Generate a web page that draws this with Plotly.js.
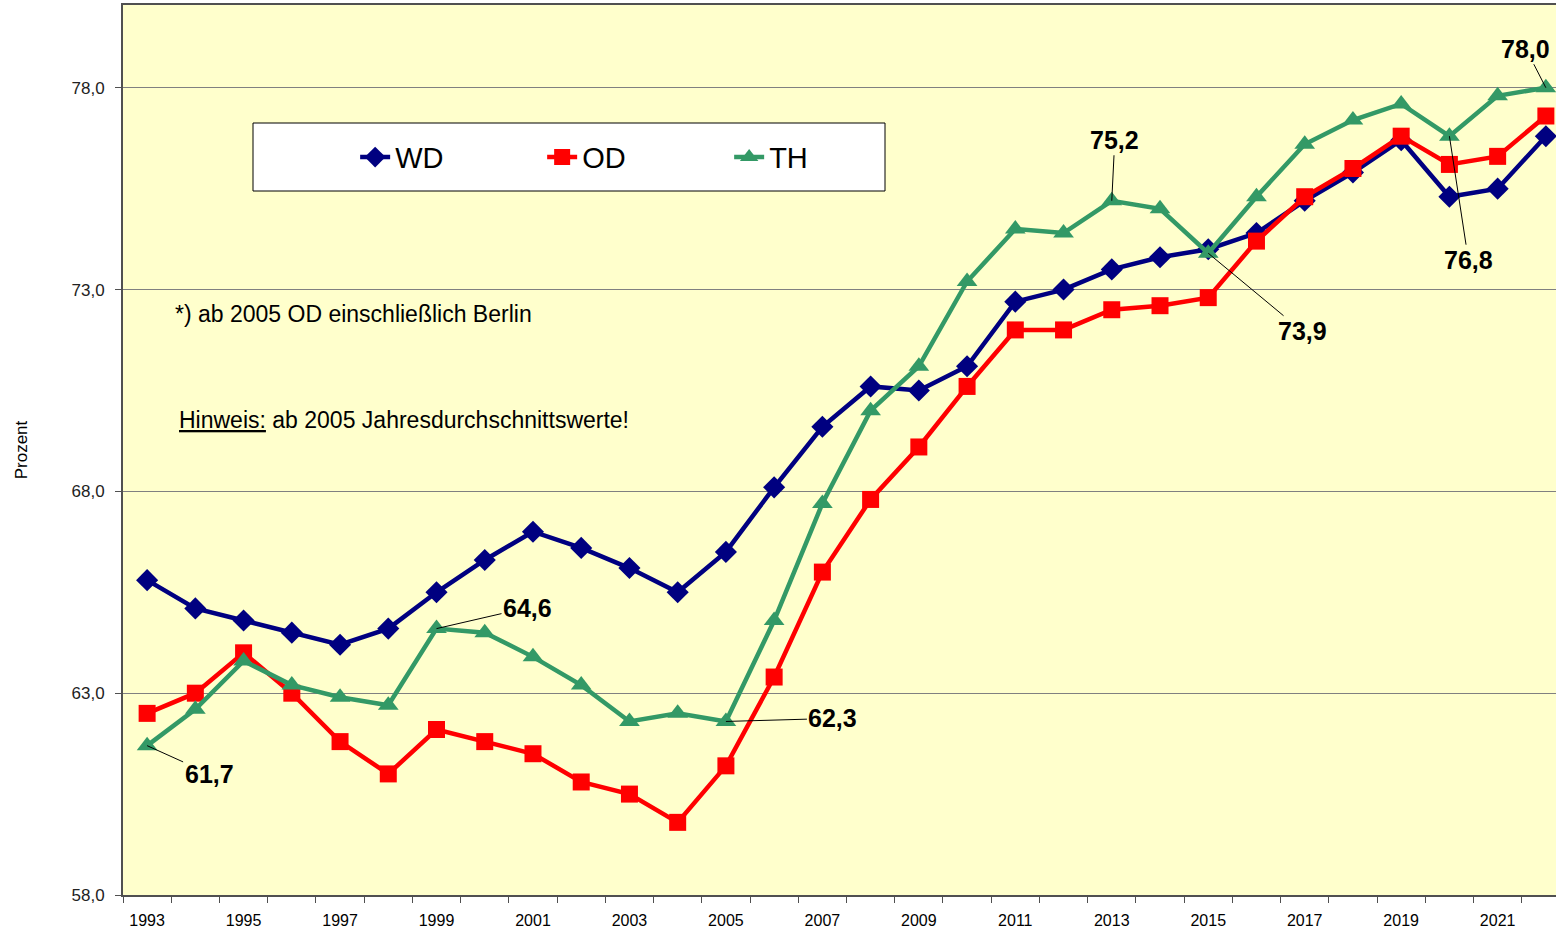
<!DOCTYPE html>
<html>
<head>
<meta charset="utf-8">
<script src="https://cdn.plot.ly/plotly-3.0.1.min.js"></script>
<style>html,body{margin:0;padding:0;background:#fff;}#chart{width:1556px;height:935px;}</style>
</head>
<body>
<div id="chart"></div>
<script>
const years = [1993,1994,1995,1996,1997,1998,1999,2000,2001,2002,2003,2004,2005,2006,2007,2008,2009,2010,2011,2012,2013,2014,2015,2016,2017,2018,2019,2020,2021,2022];
const WD = [65.8,65.1,64.8,64.5,64.2,64.6,65.5,66.3,67.0,66.6,66.1,65.5,66.5,68.1,69.6,70.6,70.5,71.1,72.7,73.0,73.5,73.8,74.0,74.4,75.2,75.9,76.7,75.3,75.5,76.8];
const OD = [62.5,63.0,64.0,63.0,61.8,61.0,62.1,61.8,61.5,60.8,60.5,59.8,61.2,63.4,66.0,67.8,69.1,70.6,72.0,72.0,72.5,72.6,72.8,74.2,75.3,76.0,76.8,76.1,76.3,77.3];
const TH = [61.7,62.6,63.8,63.2,62.9,62.7,64.6,64.5,63.9,63.2,62.3,62.5,62.3,64.8,67.7,70.0,71.1,73.2,74.5,74.4,75.2,75.0,73.9,75.3,76.6,77.2,77.6,76.8,77.8,78.0];
const yTicks = [58,63,68,73,78];
const xTickYears = [1993,1995,1997,1999,2001,2003,2005,2007,2009,2011,2013,2015,2017,2019,2021];
const labelledTH = [1993,1999,2005,2013,2015,2020,2022];
const labelOffsets = {1993:[62,28],1999:[91,-21],2005:[107,-3],2013:[3,-61],2015:[94,78],2020:[19,124],2022:[-20,-39]};

const fmt = v => v.toFixed(1).replace('.', ',');
const sans = 'Liberation Sans, Arial, sans-serif';

const traces = [
  {x: years, y: WD, name: 'WD', mode: 'lines+markers', line: {color: '#000080', width: 4.5},
   marker: {symbol: 'diamond', size: 17, color: '#000080'}},
  {x: years, y: OD, name: 'OD', mode: 'lines+markers', line: {color: '#FF0000', width: 4.5},
   marker: {symbol: 'square', size: 17, color: '#FF0000'}},
  {x: years, y: TH, name: 'TH', mode: 'lines+markers', line: {color: '#339966', width: 4.5},
   marker: {symbol: 'triangle-up', size: 18, color: '#339966'}}
];

const annotations = labelledTH.map(yr => {
  const v = TH[years.indexOf(yr)];
  const o = labelOffsets[yr];
  return {x: yr, y: v, xref: 'x', yref: 'y', text: '<b>' + fmt(v) + '</b>', showarrow: true,
    arrowhead: 0, arrowwidth: 1, arrowcolor: '#000', ax: o[0], ay: o[1], standoff: 0,
    font: {family: sans, size: 25, color: '#000'}};
});
annotations.push({xref: 'paper', yref: 'paper', x: 0.035, y: 0.653, xanchor: 'left', yanchor: 'middle',
  text: '*) ab 2005 OD einschließlich Berlin', showarrow: false, font: {family: sans, size: 23, color: '#000'}});
annotations.push({xref: 'paper', yref: 'paper', x: 0.0375, y: 0.534, xanchor: 'left', yanchor: 'middle',
  text: '<u>Hinweis:</u> ab 2005 Jahresdurchschnittswerte!', showarrow: false, font: {family: sans, size: 23, color: '#000'}});

const layout = {
  width: 1556, height: 935,
  margin: {l: 123, r: 0, t: 5, b: 40},
  paper_bgcolor: '#ffffff', plot_bgcolor: '#FFFFCC',
  showlegend: true,
  legend: {orientation: 'h', x: 0.162, y: 0.829, xanchor: 'left', yanchor: 'middle',
    bgcolor: 'rgba(0,0,0,0)', borderwidth: 0, entrywidth: 142, entrywidthmode: 'pixels',
    font: {family: sans, size: 29, color: '#000'}},
  xaxis: {range: [1992.5, 2022.21], tickmode: 'array', tickvals: xTickYears, ticktext: xTickYears.map(String),
    ticks: '', showgrid: false, zeroline: false, showline: true, linecolor: '#505050', linewidth: 2, mirror: true,
    ticklabelstandoff: 10,
    tickfont: {family: sans, size: 16, color: '#000'},
    minor: {tickmode: 'linear', tick0: 1992.5, dtick: 1, ticks: 'outside', ticklen: 6, tickcolor: '#505050', tickwidth: 1, showgrid: false}},
  yaxis: {range: [58, 80.05], tickmode: 'array', tickvals: yTicks, ticktext: yTicks.map(fmt),
    ticks: 'outside', ticklen: 6, tickcolor: '#505050', showgrid: true, gridcolor: '#808080', gridwidth: 1,
    zeroline: false, showline: true, linecolor: '#505050', linewidth: 2, ticklabelstandoff: 7,
    tickfont: {family: sans, size: 17, color: '#222'},
    title: {text: 'Prozent', font: {family: sans, size: 17, color: '#000'}, standoff: 40}},
  shapes: [{type: 'rect', xref: 'paper', yref: 'paper', x0: (253-123)/1433, x1: (885-123)/1433,
    y0: (895-191)/890, y1: (895-123)/890, fillcolor: '#ffffff', line: {color: '#000', width: 1}, layer: 'above'}],
  annotations: annotations
};

Plotly.newPlot('chart', traces, layout, {displayModeBar: false, staticPlot: true});
</script>
</body>
</html>
